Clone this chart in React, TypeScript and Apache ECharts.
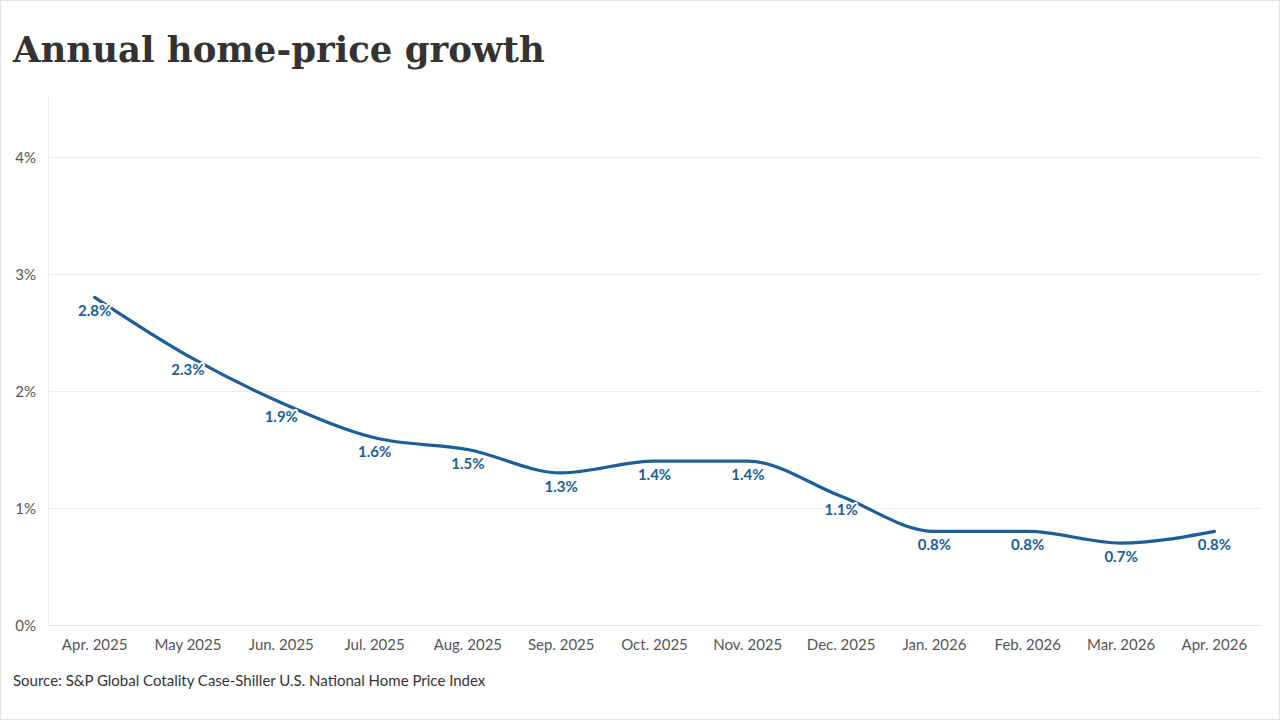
import React, { useEffect, useRef } from "react";
import * as echarts from "echarts";

const title = "Annual home-price growth";
const source = "Source: S&P Global Cotality Case-Shiller U.S. National Home Price Index";
const months = [
  "Apr. 2025", "May 2025", "Jun. 2025", "Jul. 2025", "Aug. 2025", "Sep. 2025", "Oct. 2025",
  "Nov. 2025", "Dec. 2025", "Jan. 2026", "Feb. 2026", "Mar. 2026", "Apr. 2026",
];
const growth = [2.8, 2.3, 1.9, 1.6, 1.5, 1.3, 1.4, 1.4, 1.1, 0.8, 0.8, 0.7, 0.8];
const yMin = 0;
const yMax = 4;
const yInterval = 1;

const BLUE = "#1b5e9a";

// Monotone-X cubic path (as d3.curveMonotoneX) through pixel points
function monotonePath(pts: number[][]): string {
  const n = pts.length;
  if (n < 2) return "";
  const sign = (v: number) => (v < 0 ? -1 : v > 0 ? 1 : 0);
  const t: number[] = new Array(n).fill(0);
  const slope = (i: number) => (pts[i + 1][1] - pts[i][1]) / (pts[i + 1][0] - pts[i][0]);
  for (let i = 1; i < n - 1; i++) {
    const h0 = pts[i][0] - pts[i - 1][0];
    const h1 = pts[i + 1][0] - pts[i][0];
    const s0 = slope(i - 1);
    const s1 = slope(i);
    const p = (s0 * h1 + s1 * h0) / (h0 + h1);
    t[i] = (sign(s0) + sign(s1)) * Math.min(Math.abs(s0), Math.abs(s1), 0.5 * Math.abs(p)) || 0;
  }
  if (n > 2) {
    t[0] = (3 * slope(0) - t[1]) / 2;
    t[n - 1] = (3 * slope(n - 2) - t[n - 2]) / 2;
  } else {
    t[0] = t[1] = slope(0);
  }
  let d = `M${pts[0][0]},${pts[0][1]}`;
  for (let i = 0; i < n - 1; i++) {
    const [x0, y0] = pts[i];
    const [x1, y1] = pts[i + 1];
    const dx = (x1 - x0) / 3;
    d += ` C${x0 + dx},${y0 + dx * t[i]} ${x1 - dx},${y1 - dx * t[i + 1]} ${x1},${y1}`;
  }
  return d;
}

export default function App() {
  const ref = useRef<HTMLDivElement>(null);
  useEffect(() => {
    if (!ref.current) return;
    const chart = echarts.init(ref.current, null, { renderer: "svg" });
    chart.setOption({
      animation: false,
      backgroundColor: "#ffffff",
      textStyle: { fontFamily: "Lato" },
      graphic: [
        {
          type: "rect",
          shape: { x: 0.5, y: 0.5, width: 1279, height: 719 },
          style: { fill: "none", stroke: "#e3e3e3", lineWidth: 1 },
          silent: true,
        },
        {
          type: "text",
          left: 13,
          top: 31,
          style: {
            text: title,
            font: "bold 35.5px 'DejaVu Serif'",
            fill: "#333333",
          },
        },
        {
          type: "line",
          shape: { x1: 48.5, y1: 97, x2: 48.5, y2: 625 },
          style: { stroke: "#eeeeee", lineWidth: 1 },
          silent: true,
        },
        {
          type: "text",
          left: 13,
          top: 672,
          style: {
            text: source,
            font: "15px Lato",
            fill: "#333333",
          },
        },
      ],
      grid: { left: 48, right: 19, top: 157, bottom: 95, containLabel: false },
      xAxis: {
        type: "category",
        data: months,
        boundaryGap: true,
        axisLine: { show: true, lineStyle: { color: "#e6e6e6" } },
        axisTick: { show: false },
        axisLabel: { color: "#555555", fontSize: 15, margin: 11, fontFamily: "Lato" },
      },
      yAxis: {
        type: "value",
        min: yMin,
        max: yMax,
        interval: yInterval,
        axisLine: { show: false },
        axisTick: { show: false },
        splitLine: { lineStyle: { color: "#ececec" } },
        axisLabel: {
          color: "#555555",
          fontSize: 15,
          margin: 12,
          fontFamily: "Lato",
          formatter: (v: number) => `${v}%`,
        },
      },
      series: [
        {
          type: "custom",
          z: 2,
          data: growth.map((v, i) => [i, v]),
          encode: { x: 0, y: 1 },
          renderItem: (params: any, api: any) => {
            if (params.dataIndex !== 0) return null;
            const pts = growth.map((v, i) => api.coord([i, v]));
            return {
              type: "path",
              shape: { pathData: monotonePath(pts) },
              style: { fill: "none", stroke: BLUE, lineWidth: 3.2, lineCap: "round" },
            };
          },
          silent: true,
        },
        {
          type: "line",
          z: 5,
          data: growth,
          symbol: "circle",
          symbolSize: 1,
          showSymbol: true,
          itemStyle: { color: "rgba(0,0,0,0)" },
          lineStyle: { width: 0, opacity: 0 },
          label: {
            show: true,
            position: "bottom",
            distance: 5,
            color: BLUE,
            fontWeight: "bold",
            fontSize: 15,
            fontFamily: "Lato",
            textBorderColor: "#ffffff",
            textBorderWidth: 4,
            formatter: (p: any) => `${p.value}%`,
          },
          silent: true,
        },
      ],
    });
    return () => chart.dispose();
  }, []);
  return (
    <div
      ref={ref}
      style={{ position: "fixed", left: 0, top: 0, width: 1280, height: 720 }}
    />
  );
}
